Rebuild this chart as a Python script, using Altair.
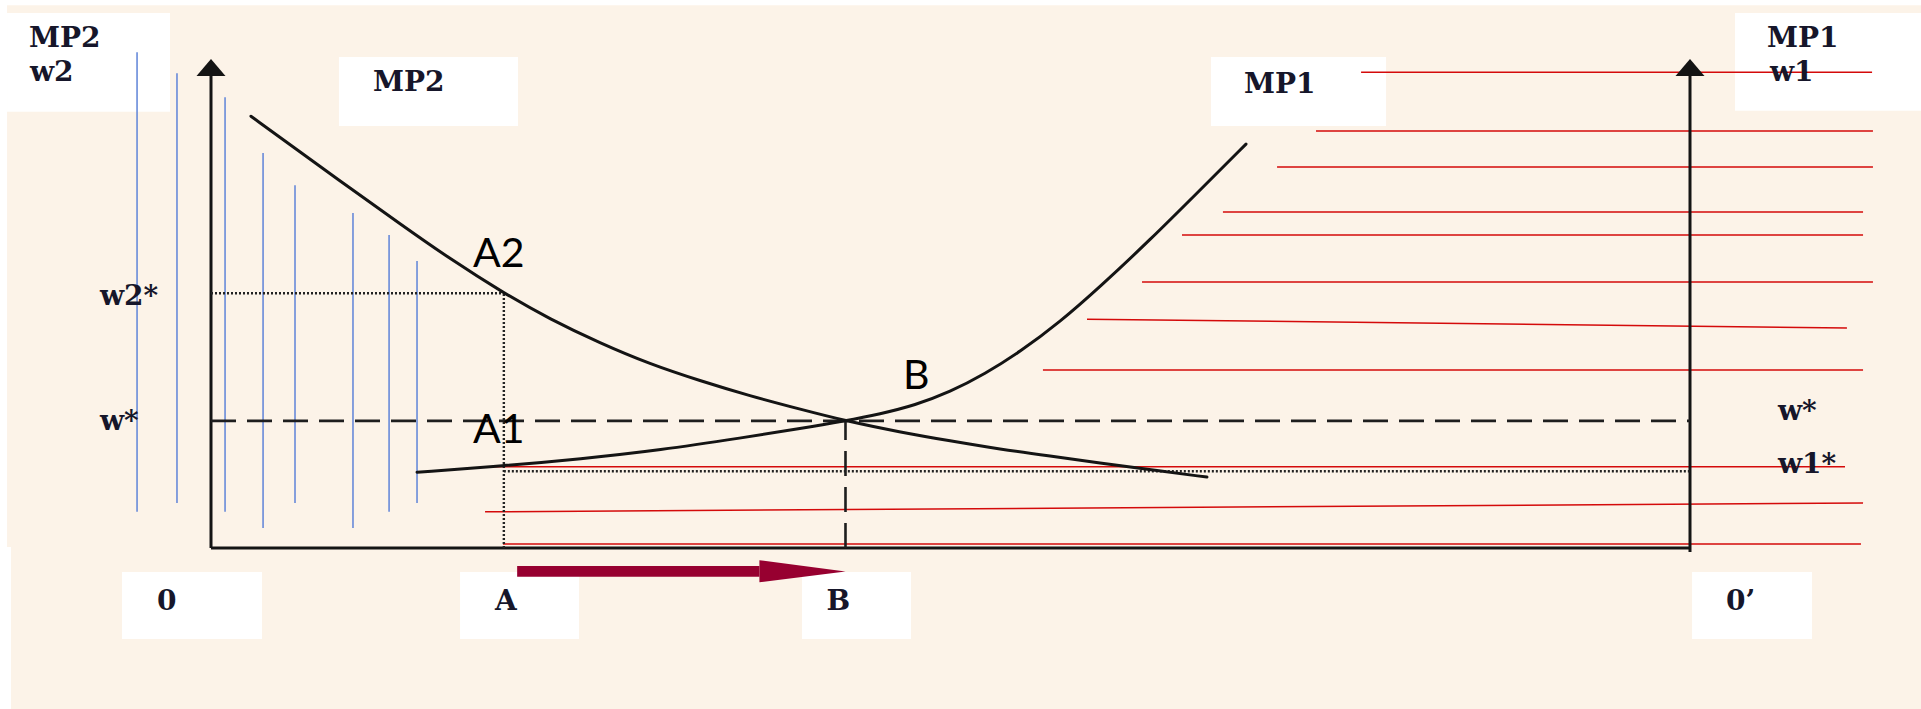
import altair as alt
import pandas as pd

# ---------------------------------------------------------------------------
# Two-sector labour allocation: MP2 measured from origin O (left),
# MP1 measured from origin O' (right). Labour runs 0..100 between the origins,
# wages run 0..10 up to the arrow tips of the vertical axes.
# ---------------------------------------------------------------------------

# canvas geometry (pixels) used only to set the scale domains
CANVAS_W, CANVAS_H = 1921, 709
PX_O, PX_O2 = 211, 1690          # horizontal position of O and O'
PX_BASE, PX_TIP = 548, 59         # baseline and arrow tip
L_MAX, W_MAX = 100.0, 10.0
px_per_l = (PX_O2 - PX_O) / L_MAX
px_per_w = (PX_BASE - PX_TIP) / W_MAX
x_domain = [-PX_O / px_per_l, (CANVAS_W - PX_O) / px_per_l]
y_domain = [-(CANVAS_H - PX_BASE) / px_per_w, PX_BASE / px_per_w]

# key allocation points and wage levels
L_A, L_B = 19.8, 42.9
W_STAR, W2_STAR, W1_STAR = 2.60, 5.21, 1.57

# marginal product curves
mp2_l = [2.70, 6.02, 9.40, 12.78, 16.17, 19.8, 22.92, 26.30, 29.68, 33.06, 36.44,
         39.82, 42.9, 46.59, 49.97, 53.35, 56.73, 60.11, 63.49, 67.34]
mp2_w = [8.83, 8.10, 7.36, 6.63, 5.91, 5.21, 4.68, 4.19, 3.76, 3.42, 3.11,
         2.84, 2.60, 2.37, 2.19, 2.02, 1.88, 1.74, 1.60, 1.45]

mp1_l = [13.93, 19.8, 24.95, 30.36, 36.04, 39.82, 42.9, 45.23, 47.60, 49.97, 52.33,
         54.70, 57.40, 60.11, 63.49, 66.87, 69.98]
mp1_w = [1.55, 1.68, 1.82, 2.00, 2.26, 2.44, 2.60, 2.74, 2.92, 3.19, 3.56,
         4.01, 4.62, 5.34, 6.30, 7.32, 8.26]

# blue vertical hatching (sector 2 side)
blue_l = [-5.0, -2.3, 0.95, 3.52, 5.68, 9.60, 12.04, 13.93]
blue_top = [10.14, 9.71, 9.22, 8.08, 7.42, 6.85, 6.40, 5.87]
blue_bot = [0.74, 0.92, 0.74, 0.41, 0.92, 0.41, 0.74, 0.92]

# red horizontal hatching (sector 1 side)
red_l0 = [77.76, 74.71, 72.08, 68.42, 65.65, 62.95, 59.23, 56.25, 18.53, 18.53, 19.74]
red_l1 = [112.31, 112.37, 112.37, 111.70, 111.70, 112.37, 110.61, 111.70, 110.48, 111.70, 111.56]
red_w0 = [9.73, 8.53, 7.79, 6.87, 6.40, 5.44, 4.68, 3.64, 1.66, 0.74, 0.08]
red_w1 = [9.73, 8.53, 7.79, 6.87, 6.40, 5.44, 4.50, 3.64, 1.66, 0.92, 0.08]

# label boxes: left, right, top, bottom
box_l0 = [-13.79, 8.65, 67.61, 103.04, -6.02, 16.84, 39.96, 100.14]
box_l1 = [-2.77, 20.76, 79.45, 115.62, 3.45, 24.88, 47.33, 108.25]
box_w0 = [10.94, 10.04, 10.04, 10.94, -0.49, -0.49, -0.49, -0.49]
box_w1 = [8.92, 8.63, 8.63, 8.94, -1.86, -1.86, -1.86, -1.86]

# serif labels (text, left edge, baseline)
serif_txt = ["MP2", "w2", "MP2", "MP1", "MP1", "w1", "0", "A", "B", "0\u2019",
             "w2*", "w*", "w*", "w1*"]
serif_l = [-12.31, -12.24, 10.95, 69.84, 105.21, 105.41, -3.65, 19.20, 41.62, 102.43,
           -7.51, -7.51, 105.95, 105.95]
serif_w = [10.25, 9.55, 9.35, 9.30, 10.25, 9.55, -1.27, -1.27, -1.27, -1.27,
           4.97, 2.41, 2.62, 1.53]

# point labels on the curves
pt_txt = ["A2", "A1", "B"]
pt_l = [17.71, 17.71, 46.79]
pt_w = [5.75, 2.15, 3.25]

# ---------------------------------------------------------------------------
xs = alt.Scale(domain=x_domain, nice=False, zero=False)
ys = alt.Scale(domain=y_domain, nice=False, zero=False)


def X(f):
    return alt.X(f, type="quantitative", scale=xs, axis=None)


def Y(f):
    return alt.Y(f, type="quantitative", scale=ys, axis=None)


CREAM = "#FCF3E8"
INK = "#141414"

# background panel
bg = pd.DataFrame({"l0": [-13.79, x_domain[0]], "l1": [x_domain[1], -13.52],
                   "w0": [11.10, 0.02], "w1": [y_domain[0], y_domain[0]],
                   "fill": [CREAM, "#FFFFFF"]})
background = alt.Chart(bg).mark_rect().encode(
    x=X("l0"), x2="l1", y=Y("w0"), y2="w1",
    color=alt.Color("fill:N", scale=None))

boxes = alt.Chart(pd.DataFrame({"l0": box_l0, "l1": box_l1, "w0": box_w0, "w1": box_w1})
                  ).mark_rect(color="white").encode(x=X("l0"), x2="l1", y=Y("w0"), y2="w1")

blue = alt.Chart(pd.DataFrame({"l": blue_l, "top": blue_top, "bot": blue_bot})
                 ).mark_rule(color="#5E83D8", strokeWidth=1.5).encode(
    x=X("l"), y=Y("top"), y2="bot")

red = alt.Chart(pd.DataFrame({"l0": red_l0, "l1": red_l1, "w0": red_w0, "w1": red_w1})
                ).mark_rule(color="#D40A0A", strokeWidth=1.5).encode(
    x=X("l0"), x2="l1", y=Y("w0"), y2="w1")

# axes frame: left axis, right axis, baseline
frame = alt.Chart(pd.DataFrame({
    "l0": [0, L_MAX, 0], "l1": [0, L_MAX, L_MAX],
    "w0": [0, -0.08, 0], "w1": [9.8, 9.8, 0]})
).mark_rule(color=INK, strokeWidth=3).encode(x=X("l0"), x2="l1", y=Y("w0"), y2="w1")

# arrow heads on the two vertical axes
head_half, head_base = 0.98, W_MAX - 0.35
tips = pd.DataFrame({
    "axis": ["O"] * 3 + ["O2"] * 3,
    "l": [-head_half, 0, head_half, L_MAX - head_half, L_MAX, L_MAX + head_half],
    "hi": [head_base, W_MAX, head_base] * 2,
    "lo": [head_base] * 6})
tip_marks = alt.Chart(tips).mark_area(color=INK).encode(
    x=X("l"), y=Y("hi"), y2="lo", detail="axis:N")

# dashed equilibrium guides
dashed = alt.Chart(pd.DataFrame({
    "l0": [0, L_B], "l1": [L_MAX, L_B], "w0": [W_STAR, 0], "w1": [W_STAR, W_STAR]})
).mark_rule(color="#1E1E1E", strokeWidth=2.6, strokeDash=[25, 11]).encode(
    x=X("l0"), x2="l1", y=Y("w0"), y2="w1")

# dotted guides for allocation A
dotted = alt.Chart(pd.DataFrame({
    "l0": [0, L_A, L_A], "l1": [L_A, L_A, L_MAX],
    "w0": [W2_STAR, 0, W1_STAR], "w1": [W2_STAR, W2_STAR, W1_STAR]})
).mark_rule(color="#222222", strokeWidth=2.4, strokeDash=[2, 2]).encode(
    x=X("l0"), x2="l1", y=Y("w0"), y2="w1")

curves_df = pd.concat([
    pd.DataFrame({"curve": "MP2", "i": range(len(mp2_l)), "l": mp2_l, "w": mp2_w}),
    pd.DataFrame({"curve": "MP1", "i": range(len(mp1_l)), "l": mp1_l, "w": mp1_w}),
])
curves = alt.Chart(curves_df).mark_line(
    color=INK, strokeWidth=3, interpolate="basis", strokeCap="round").encode(
    x=X("l"), y=Y("w"), detail="curve:N", order="i:Q")

serif = alt.Chart(pd.DataFrame({"t": serif_txt, "l": serif_l, "w": serif_w})).mark_text(
    align="left", baseline="alphabetic", font="DejaVu Serif", fontSize=28,
    fontWeight="bold", color="#16162A").encode(x=X("l"), y=Y("w"), text="t:N")

points = alt.Chart(pd.DataFrame({"t": pt_txt, "l": pt_l, "w": pt_w})).mark_text(
    align="left", baseline="alphabetic", font="Lato", fontSize=41, color="#000000"
).encode(x=X("l"), y=Y("w"), text="t:N")

# reallocation arrow from A to B below the baseline
ARROW = "#970030"
arrow_body = alt.Chart(pd.DataFrame({"l0": [L_A + 0.9], "l1": [L_B - 5.82],
                                     "w0": [-0.37], "w1": [-0.59]})
                       ).mark_rect(color=ARROW).encode(x=X("l0"), x2="l1", y=Y("w0"), y2="w1")
arrow_head = alt.Chart(pd.DataFrame({"l": [L_B - 5.82, L_B], "hi": [-0.25, -0.48],
                                     "lo": [-0.70, -0.48]})
                       ).mark_area(color=ARROW).encode(x=X("l"), y=Y("hi"), y2="lo")

chart = alt.layer(
    background, boxes, blue, red, frame, tip_marks, dashed, dotted, curves,
    serif, points, arrow_body, arrow_head
).properties(
    width=CANVAS_W, height=CANVAS_H, padding=0, background="white",
    autosize=alt.AutoSizeParams(type="none")
).configure_view(stroke=None)

chart.save("out.html", embed_options={"renderer": "svg", "actions": False})
